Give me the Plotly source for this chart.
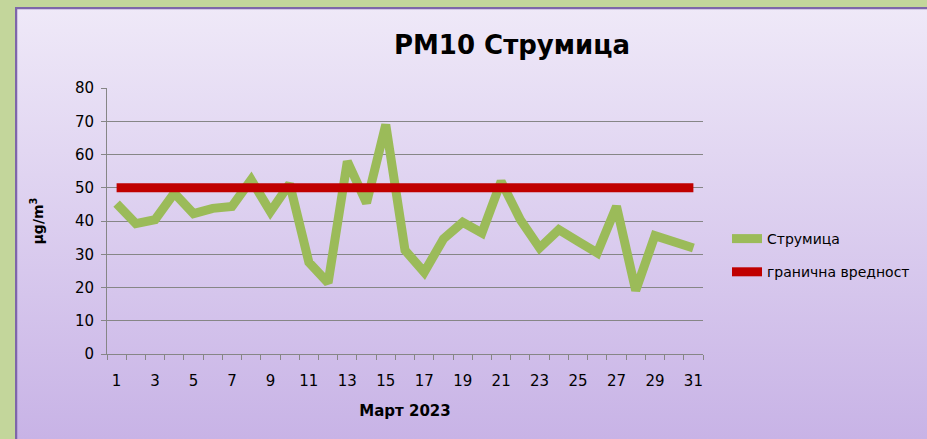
import base64
import plotly.graph_objects as go

# Daily PM10 concentrations, Strumica, March 2023 (µg/m³)
days = list(range(1, 32))
pm10 = [45.2, 39.2, 40.4, 48.4, 42.2, 43.8, 44.4, 52.4, 42.8, 51.2,
        27.6, 21.4, 57.9, 45.4, 69.0, 31.2, 24.6, 34.6, 39.6, 36.4,
        51.9, 40.4, 31.9, 37.4, 33.9, 30.4, 44.4, 19.1, 35.6, 33.9, 31.9]
limit_value = 50
limit = [limit_value] * len(days)
x_labels = [1, 3, 5, 7, 9, 11, 13, 15, 17, 19, 21, 23, 25, 27, 29, 31]
y_ticks = [0, 10, 20, 30, 40, 50, 60, 70, 80]

W, H = 927, 439
L, R, T, B = 107, 224, 88, 85
plot_w, plot_h = W - L - R, H - T - B

# Lavender gradient panel with a purple frame, drawn as an SVG background image
svg = f"""<svg xmlns='http://www.w3.org/2000/svg' width='912' height='432' viewBox='0 0 912 432' preserveAspectRatio='none'>
<defs><linearGradient id='g' x1='0' y1='0' x2='0' y2='1'>
<stop offset='0' stop-color='#EFE9F8'/><stop offset='1' stop-color='#C8B3E6'/>
</linearGradient></defs>
<rect x='0' y='0' width='912' height='432' fill='url(#g)'/>
<path d='M1 432 L1 1 L912 1' fill='none' stroke='#7E66AA' stroke-width='2.5'/>
</svg>"""
svg_uri = "data:image/svg+xml;base64," + base64.b64encode(svg.encode()).decode()

px0, py0 = 15, 7
img_x = (px0 - L) / plot_w
img_y = (H - B - py0) / plot_h
img_sx = (W - px0) / plot_w
img_sy = (H - py0) / plot_h

font_main = "DejaVu Sans"

fig = go.Figure()
fig.add_trace(go.Scatter(
    x=days, y=pm10, mode="lines", name="Струмица",
    line=dict(color="#9BBB59", width=9), legendgroup="a",
))
fig.add_trace(go.Scatter(
    x=days, y=limit, mode="lines", name="гранична вредност",
    line=dict(color="#C00000", width=9), legendgroup="b",
))

fig.update_layout(
    width=W, height=H,
    margin=dict(l=L, r=R, t=T, b=B),
    paper_bgcolor="#C3D69B",
    plot_bgcolor="rgba(0,0,0,0)",
    images=[dict(source=svg_uri, xref="paper", yref="paper",
                 x=img_x, y=img_y, sizex=img_sx, sizey=img_sy,
                 xanchor="left", yanchor="top", sizing="stretch",
                 layer="below")],
    title=dict(text="<b>PM10 Струмица</b>", x=512 / W, xanchor="center",
               y=1 - 45 / H, yanchor="middle",
               font=dict(family=font_main, size=26, color="#000000")),
    showlegend=True,
    legend=dict(x=(727 - L) / plot_w, y=(H - B - 223) / plot_h,
                xanchor="left", yanchor="top",
                bgcolor="rgba(0,0,0,0)", traceorder="grouped",
                tracegroupgap=12,
                font=dict(family=font_main, size=14, color="#000000")),
    xaxis=dict(
        range=[0.5, 31.5], tickmode="array", tickvals=x_labels,
        ticktext=[str(v) for v in x_labels], ticks="",
        ticklabelstandoff=13,
        showgrid=False, zeroline=False,
        showline=True, linecolor="#868686", linewidth=1,
        tickfont=dict(family=font_main, size=15, color="#000000"),
        title=dict(text="<b>Март 2023</b>", standoff=16,
                   font=dict(family=font_main, size=15, color="#000000")),
        minor=dict(tickmode="array",
                   tickvals=[d - 0.5 for d in days] + [days[-1] + 0.5],
                   ticks="outside", ticklen=5, tickcolor="#868686",
                   showgrid=False),
    ),
    yaxis=dict(
        range=[0, 80], tickmode="array", tickvals=y_ticks,
        ticks="outside", ticklen=5, tickcolor="#868686",
        ticklabelstandoff=4,
        showgrid=True, gridcolor="#868686", gridwidth=1,
        zeroline=False, showline=True, linecolor="#868686", linewidth=1,
        tickfont=dict(family=font_main, size=15, color="#000000"),
        title=dict(text="<b>µg/m<sup>3</sup></b>", standoff=28,
                   font=dict(family=font_main, size=14, color="#000000")),
    ),
)

fig.write_html("out.html")
